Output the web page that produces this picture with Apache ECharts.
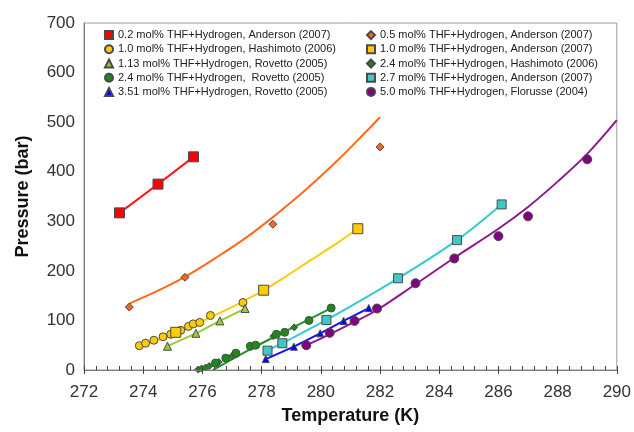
<!DOCTYPE html>
<html>
<head>
<meta charset="utf-8">
<script src="https://cdn.jsdelivr.net/npm/echarts@6/dist/echarts.min.js"></script>
<style>html,body{margin:0;padding:0;background:#fff}#c{width:634px;height:432px}</style>
</head>
<body>
<div id="c"></div>
<script>
// ---- data (Temperature K, Pressure bar) ----
var xTicks = [272, 290, 2];
var yTicks = [0, 700, 100];

var red_02_Anderson = [[273.2,317],[274.5,375],[275.7,430]];
var orange_05_Anderson = [[273.53,127],[275.41,187],[278.38,294],[282.0,450]];
var orange_fit = [[273.53,134],[274.5,160],[275.5,191],[276.5,228],[277.5,268],[278.5,314],[279.5,364],[280.5,419],[281.5,479],[282.0,510]];
var yellow_10_Hashimoto = [[273.87,49],[274.08,54],[274.36,60],[274.67,67],[274.93,72],[275.27,80],[275.53,88],[275.69,93],[275.91,96],[276.27,110],[277.37,136]];
var yellow_10_Anderson = [[275.1,76],[278.07,161],[281.25,285]];
var yellow_fit = [[273.87,49],[274.6,63],[275.3,80],[276.3,107],[277.3,136],[278.07,161],[278.8,188],[279.62,220],[280.5,254],[281.25,285]];
var lgreen_113_Rovetto = [[274.82,48],[275.78,74],[276.59,99],[277.44,124]];
var green_24_Rovetto = [[276.44,14],[276.79,24],[277.13,34],[277.62,48],[277.8,50],[278.5,72],[278.78,76],[279.6,100],[280.35,125]];
var green_24_Hashimoto = [[275.86,1],[275.97,3],[276.11,5],[276.23,8],[276.55,16],[277.0,28],[278.4,68],[279.1,86]];
var green_fit = [[276.36,0],[277.5,38],[278.5,69],[279.5,99],[280.35,125]];
var cyan_27_Anderson = [[278.2,39],[278.7,54],[280.19,101],[282.61,185],[284.6,262],[286.11,334]];
var blue_351_Rovetto = [[278.14,22],[279.09,47],[279.98,74],[280.77,99],[281.62,125]];
var purple_50_Florusse = [[279.51,50],[280.3,75],[281.14,99],[281.9,124],[283.2,175],[284.51,225],[286.0,270],[287.0,310],[289.0,425]];
var purple_fit = [[279.51,50],[280.3,72],[281.1,96],[281.9,121],[283.2,173],[284.5,226],[286.0,285],[287.0,329],[288.0,380],[289.0,436],[290.0,504]];

var names = {
  r: '0.2 mol% THF+Hydrogen, Anderson (2007)',
  o: '0.5 mol% THF+Hydrogen, Anderson (2007)',
  yh: '1.0 mol% THF+Hydrogen, Hashimoto (2006)',
  ya: '1.0 mol% THF+Hydrogen, Anderson (2007)',
  lg: '1.13 mol% THF+Hydrogen, Rovetto (2005)',
  gh: '2.4 mol% THF+Hydrogen, Hashimoto (2006)',
  gr: '2.4 mol% THF+Hydrogen,  Rovetto (2005)',
  c: '2.7 mol% THF+Hydrogen, Anderson (2007)',
  b: '3.51 mol% THF+Hydrogen, Rovetto (2005)',
  p: '5.0 mol% THF+Hydrogen, Florusse (2004)'
};

var FONT = 'Liberation Sans, Arial, sans-serif';
var BORDER = '#4a4a4a';

function line(data, color, smooth) {
  return {type:'line', data:data, smooth: smooth === undefined ? 0.35 : smooth, showSymbol:false, silent:true,
    lineStyle:{color:color, width:2}, z:2, animation:false};
}
function pts(name, data, color, symbol, size) {
  return {type:'scatter', name:name, data:data, symbol:symbol, symbolSize:size,
    itemStyle:{color:color, borderColor:BORDER, borderWidth:1, opacity:1}, z:3, animation:false};
}

var chart = echarts.init(document.getElementById('c'), null, {renderer:'canvas'});
var legendText = {fontFamily:FONT, fontSize:11, color:'#222', lineHeight:14.2};
chart.setOption({
  backgroundColor:'#fff',
  animation:false,
  grid:{left:84, right:16, top:23, bottom:62, show:true, borderColor:'#9a9a9a', borderWidth:1},
  legend:[
    {orient:'vertical', left:104, top:28, padding:0, itemGap:0, itemWidth:8, itemHeight:8,
     textStyle:legendText, selectedMode:false,
     data:[{name:names.r, icon:'rect'},{name:names.yh, icon:'circle'},{name:names.lg, icon:'triangle'},
           {name:names.gr, icon:'circle'},{name:names.b, icon:'triangle'}]},
    {orient:'vertical', left:366, top:28, padding:0, itemGap:0, itemWidth:8, itemHeight:8,
     textStyle:legendText, selectedMode:false,
     data:[{name:names.o, icon:'diamond'},{name:names.ya, icon:'rect'},{name:names.gh, icon:'diamond'},
           {name:names.c, icon:'rect'},{name:names.p, icon:'circle'}]}
  ],
  xAxis:[
    {type:'value', min:xTicks[0], max:xTicks[1], interval:xTicks[2],
    name:'Temperature (K)', nameLocation:'middle', nameGap:37,
    nameTextStyle:{fontFamily:FONT, fontSize:18, fontWeight:'bold', color:'#111'},
    axisLine:{show:true, onZero:false, lineStyle:{color:'#7a7a7a', width:1}},
    axisTick:{show:true, inside:true, length:4, lineStyle:{color:'#444'}},
    minorTick:{show:true, splitNumber:5, length:4, lineStyle:{color:'#444'}},
    axisLabel:{fontFamily:FONT, fontSize:17, color:'#333', margin:14},
    splitLine:{show:false}, z:5},
    {type:'value', gridIndex:0, position:'bottom', min:xTicks[0], max:xTicks[1], interval:xTicks[2],
    axisLine:{show:false, onZero:false},
    axisTick:{show:true, inside:false, length:4, lineStyle:{color:'#444'}},
    axisLabel:{show:false}, splitLine:{show:false}, z:5}
  ],
  yAxis:{type:'value', min:yTicks[0], max:yTicks[1], interval:yTicks[2],
    name:'Pressure (bar)', nameLocation:'middle', nameGap:52, nameRotate:90,
    nameTextStyle:{fontFamily:FONT, fontSize:18, fontWeight:'bold', color:'#111'},
    axisLine:{show:true, onZero:false, lineStyle:{color:'#7a7a7a', width:1}},
    axisTick:{show:false},
    axisLabel:{fontFamily:FONT, fontSize:17, color:'#333', margin:9},
    splitLine:{show:false}},
  series:[
    line(red_02_Anderson, '#ff1a1a', 0.3),
    line(orange_fit, '#ff6a1a'),
    line(yellow_fit, '#ffcc00'),
    line(lgreen_113_Rovetto, '#99cc33', 0),
    line(green_fit, '#22922a', 0.3),
    line(cyan_27_Anderson, '#33cccc', 0.3),
    line(blue_351_Rovetto, '#1010ff', 0),
    line(purple_fit, '#8b1a8b'),
    pts(names.r, red_02_Anderson, '#ff0000', 'rect', 10),
    pts(names.o, orange_05_Anderson, '#f26522', 'diamond', 8),
    pts(names.yh, yellow_10_Hashimoto, '#ffcc00', 'circle', 8),
    pts(names.ya, yellow_10_Anderson, '#ffcc00', 'rect', 10),
    pts(names.lg, lgreen_113_Rovetto, '#99cc33', 'triangle', 8),
    pts(names.gh, green_24_Hashimoto, '#1a8a1a', 'diamond', 7),
    pts(names.gr, green_24_Rovetto, '#1a8a1a', 'circle', 8),
    pts(names.c, cyan_27_Anderson, '#40c8c8', 'rect', 9),
    pts(names.b, blue_351_Rovetto, '#0000ff', 'triangle', 7),
    pts(names.p, purple_50_Florusse, '#800080', 'circle', 9)
  ]
});
</script>
</body>
</html>
